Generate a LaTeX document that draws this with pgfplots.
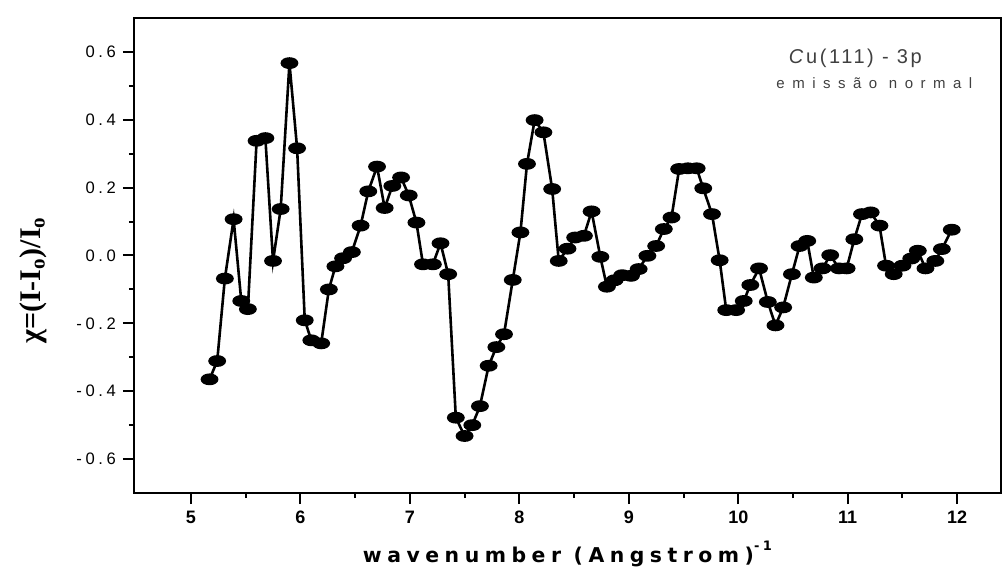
\documentclass[border=0pt]{standalone}
\usepackage{fontspec}
\setmainfont{Liberation Sans}
\newfontfamily\xtickfont{Liberation Sans}
\newfontfamily\ytickfont[LetterSpace=22]{Liberation Sans}
\newfontfamily\xlabfont[LetterSpace=27]{DejaVu Sans}
\newfontfamily\ylabfont{Liberation Serif}
\newfontfamily\annfont[LetterSpace=13]{Liberation Sans}
\newfontfamily\annfontb[LetterSpace=50]{Liberation Sans}
\usepackage{pgfplots}
\pgfplotsset{compat=1.18}

\definecolor{anncol}{HTML}{404040}

\begin{document}
\begin{tikzpicture}
\begin{axis}[
  name=ax,
  scale only axis,
  width=433.5pt, height=237.5pt,
  xmin=4.48, xmax=12.4,
  ymin=-0.7, ymax=0.7,
  xtick={5,6,...,12},
  minor x tick num=1,
  ytick={-0.6,-0.4,-0.2,0,0.2,0.4,0.6},
  minor y tick num=1,
  tick pos=left,
  tick align=outside,
  major tick length=5.5pt,
  minor tick length=2.5pt,
  every tick/.style={black, line width=1pt},
  axis line style={line width=1.2pt},
  /pgf/number format/assume math mode=true,
  yticklabel style={/pgf/number format/fixed, /pgf/number format/fixed zerofill,
    /pgf/number format/precision=1, font=\ytickfont\fontsize{8.3}{8.3}\selectfont},
  xticklabel style={font=\xtickfont\bfseries\fontsize{9}{9}\selectfont},
  xlabel={\xlabfont\bfseries wavenumber (Angstrom)\raisebox{1.1ex}{\fontsize{6.5}{6.5}\selectfont -1}},
  xlabel style={at={(axis description cs:0.5,-0.147)}, anchor=base, font=\fontsize{10.2}{10.2}\selectfont},
  ylabel={\ylabfont\bfseries χ=(I-I\textsubscript{o})/I\textsubscript{o}},
  ylabel style={at={(axis description cs:-0.1165,0.448)}, anchor=center, font=\fontsize{15}{15}\selectfont},
]
\addplot[black, line width=1.3pt, mark=*, mark size=2.3pt,
  mark options={xscale=1.65, fill=black}] coordinates {
(5.17,-0.365) (5.24,-0.311) (5.31,-0.068) (5.39,0.107) (5.46,-0.134)
(5.52,-0.158) (5.60,0.338) (5.68,0.346) (5.75,-0.016) (5.82,0.137)
(5.90,0.567) (5.97,0.316) (6.04,-0.191) (6.10,-0.250) (6.19,-0.259)
(6.26,-0.100) (6.32,-0.032) (6.39,-0.008) (6.47,0.010) (6.55,0.088)
(6.62,0.189) (6.70,0.262) (6.77,0.140) (6.84,0.205) (6.92,0.230)
(6.99,0.177) (7.06,0.097) (7.12,-0.026) (7.21,-0.026) (7.28,0.036)
(7.35,-0.055) (7.42,-0.478) (7.50,-0.532) (7.57,-0.500) (7.64,-0.444)
(7.72,-0.325) (7.79,-0.270) (7.86,-0.232) (7.94,-0.072) (8.01,0.068)
(8.07,0.270) (8.14,0.399) (8.22,0.363) (8.30,0.196) (8.36,-0.016)
(8.44,0.020) (8.51,0.053) (8.59,0.058) (8.66,0.130) (8.74,-0.004)
(8.80,-0.092) (8.87,-0.073) (8.94,-0.058) (9.02,-0.060) (9.09,-0.040)
(9.17,-0.001) (9.25,0.028) (9.32,0.078) (9.39,0.112) (9.46,0.255)
(9.54,0.257) (9.62,0.257) (9.68,0.198) (9.76,0.122) (9.83,-0.014)
(9.89,-0.161) (9.98,-0.161) (10.05,-0.134) (10.11,-0.087) (10.19,-0.038)
(10.27,-0.137) (10.34,-0.206) (10.41,-0.153) (10.49,-0.055) (10.56,0.028)
(10.63,0.043) (10.69,-0.065) (10.77,-0.038) (10.84,0.001) (10.92,-0.038)
(10.99,-0.038) (11.06,0.048) (11.13,0.122) (11.21,0.127) (11.29,0.088)
(11.35,-0.030) (11.42,-0.055) (11.50,-0.030) (11.58,-0.009) (11.64,0.014)
(11.71,-0.038) (11.80,-0.016) (11.86,0.019) (11.95,0.076)
};
\node[anchor=base, text=anncol, font=\annfont\fontsize{10}{10}\selectfont]
  at (axis description cs:0.832,0.905) {\textit{C}u(111) - 3p};
\node[anchor=base, text=anncol, font=\annfontb\fontsize{7.5}{7.5}\selectfont]
  at (axis description cs:0.854,0.852) {emissão normal};
\end{axis}
\pgfresetboundingbox
\useasboundingbox ([shift={(-67pt,-40.5pt)}]ax.south west) rectangle ([shift={(1pt,9pt)}]ax.north east);
\end{tikzpicture}
\end{document}
